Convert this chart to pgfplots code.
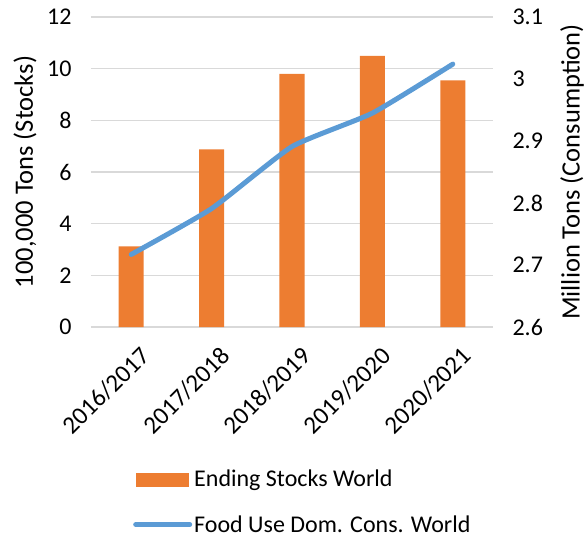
\documentclass[border=0pt]{standalone}
\usepackage{fontspec}
\setmainfont{Carlito}
\usepackage{pgfplots}
\pgfplotsset{compat=1.18}
\definecolor{barorange}{HTML}{ED7D31}
\definecolor{lineblue}{HTML}{5B9BD5}
\definecolor{gridgray}{HTML}{D9D9D9}
\pgfplotsset{
  common/.style={
    at={(0,0)}, anchor=south west,
    scale only axis, width=402pt, height=310pt,
    xmin=-0.5, xmax=4.5,
    axis line style={draw=none},
    major tick length=0pt,
    /pgf/number format/assume math mode=true,
    tick label style={font=\fontsize{24}{28}\selectfont},
    label style={font=\fontsize{26.5}{30}\selectfont},
  }
}
\begin{document}
\begin{tikzpicture}[x=1pt,y=1pt]
\path[use as bounding box] (-91,-209) rectangle (494,327);
\begin{axis}[
  common,
  ymin=0, ymax=12,
  ytick={0,2,4,6,8,10,12},
  ymajorgrids,
  grid style={gridgray, line width=1.4pt},
  xtick={0,1,2,3,4},
  xticklabels={2016/2017,2017/2018,2018/2019,2019/2020,2020/2021},
  xticklabel style={rotate=45, anchor=north east, inner sep=2pt, yshift=-16pt, xshift=-5pt, font=\fontsize{25}{28}\selectfont},
  yticklabel style={anchor=east, xshift=-16pt},
  ylabel={100,000 Tons (Stocks)},
  ylabel style={at={(axis description cs:-0.164,0.5)}, anchor=center},
]
\addplot[ybar, bar width=25pt, fill=barorange, draw=none] coordinates {(0,3.12) (1,6.88) (2,9.8) (3,10.5) (4,9.55)};
\end{axis}
\begin{axis}[
  common,
  ymin=2.6, ymax=3.1,
  axis y line*=right,
  axis x line=none,
  ytick={2.6,2.7,2.8,2.9,3.0,3.1},
  yticklabels={2.6,2.7,2.8,2.9,3,3.1},
  yticklabel style={anchor=west, xshift=16pt},
  ylabel={Million Tons (Consumption)},
  ylabel style={at={(axis description cs:1.1965,0.5)}, anchor=center},
  legend style={at={(axis description cs:0.1045,-0.455)}, anchor=north west, draw=none, fill=none,
    font=\fontsize{24}{28}\selectfont, inner sep=0pt, row sep=23pt},
  legend cell align=left,
]
\addlegendimage{legend image code/.code={\fill[barorange] (0pt,-6.5pt) rectangle (52pt,6.5pt);}}
\addlegendentry{Ending Stocks World}
\addplot[lineblue, line width=5pt, smooth, tension=0.3, line cap=round,
  legend image code/.code={\draw[lineblue, line width=5pt, line cap=round] (0pt,0pt) -- (54pt,0pt);}]
  coordinates {(0,2.717) (1,2.791) (2,2.891) (3,2.945) (4,3.024)};
\addlegendentry{Food Use Dom. Cons. World}
\end{axis}
\end{tikzpicture}
\end{document}
